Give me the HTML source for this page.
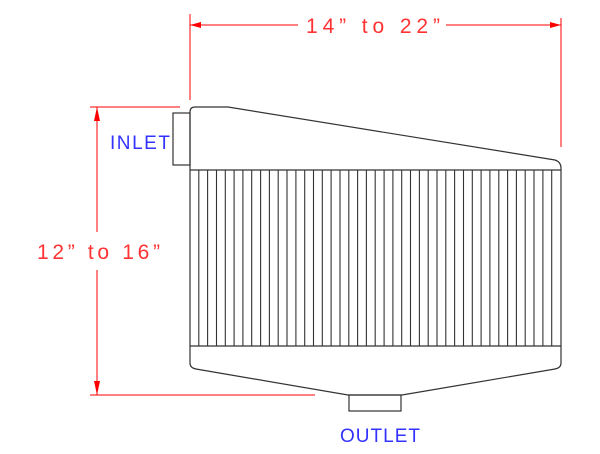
<!DOCTYPE html>
<html><head><style>body{margin:0;background:#fff}svg{display:block}</style></head><body>
<svg width="600" height="454" viewBox="0 0 600 454" xmlns="http://www.w3.org/2000/svg">
<g stroke="#f00" stroke-width="1" fill="none">
<line x1="190" y1="14" x2="190" y2="100"/>
<line x1="561" y1="18" x2="561" y2="147"/>
<line x1="190" y1="25" x2="298" y2="25"/>
<line x1="446" y1="25" x2="561" y2="25"/>
<line x1="90" y1="107" x2="180" y2="107"/>
<line x1="90" y1="395" x2="315" y2="395"/>
<line x1="97" y1="107" x2="97" y2="232"/>
<line x1="97" y1="270" x2="97" y2="395"/>
</g>
<g fill="#f00">
<polygon points="190,25 201,22 201,28"/>
<polygon points="561,25 550,22 550,28"/>
<polygon points="97,107 94,121 100,121"/>
<polygon points="97,395 94,381 100,381"/>
</g>
<g font-family="Liberation Sans, sans-serif" font-size="21">
<text x="306" y="33" fill="#f33" textLength="134" lengthAdjust="spacing">14”  to  22”</text>
<text x="37" y="259" fill="#f33" textLength="123" lengthAdjust="spacing">12”  to  16”</text>
<text x="110" y="149" fill="#33f" font-size="19" textLength="60" lengthAdjust="spacing">INLET</text>
<text x="340" y="442" fill="#33f" font-size="19" textLength="80" lengthAdjust="spacing">OUTLET</text>
</g>
<g stroke="#333" stroke-width="1.2" fill="none">
<rect x="173" y="113" width="17" height="52"/>
<rect x="349" y="395" width="52" height="16"/>
<path d="M190,170 L190,112 Q190,107 195,107 L228,107 L555,160 Q561,162 561,168 L561,363 Q561,368 555,369 L402,395 L348,395 L196,369 Q190,368 190,363 Z"/>
<line x1="190" y1="170" x2="561" y2="170"/>
<line x1="190" y1="346" x2="561" y2="346"/>
</g>
<g stroke="#333" stroke-width="1.1">
<path d="M198.8,170V346M207.6,170V346M216.5,170V346M225.3,170V346M234.1,170V346M242.9,170V346M251.7,170V346M260.6,170V346M269.4,170V346M278.2,170V346M287,170V346M295.9,170V346M304.7,170V346M313.5,170V346M322.3,170V346M331.1,170V346M340,170V346M348.8,170V346M357.6,170V346M366.4,170V346M375.2,170V346M384.1,170V346M392.9,170V346M401.7,170V346M410.5,170V346M419.4,170V346M428.2,170V346M437,170V346M445.8,170V346M454.6,170V346M463.5,170V346M472.3,170V346M481.1,170V346M489.9,170V346M498.8,170V346M507.6,170V346M516.4,170V346M525.2,170V346M534,170V346M542.9,170V346M551.7,170V346"/>
</g>
</svg>
</body></html>
